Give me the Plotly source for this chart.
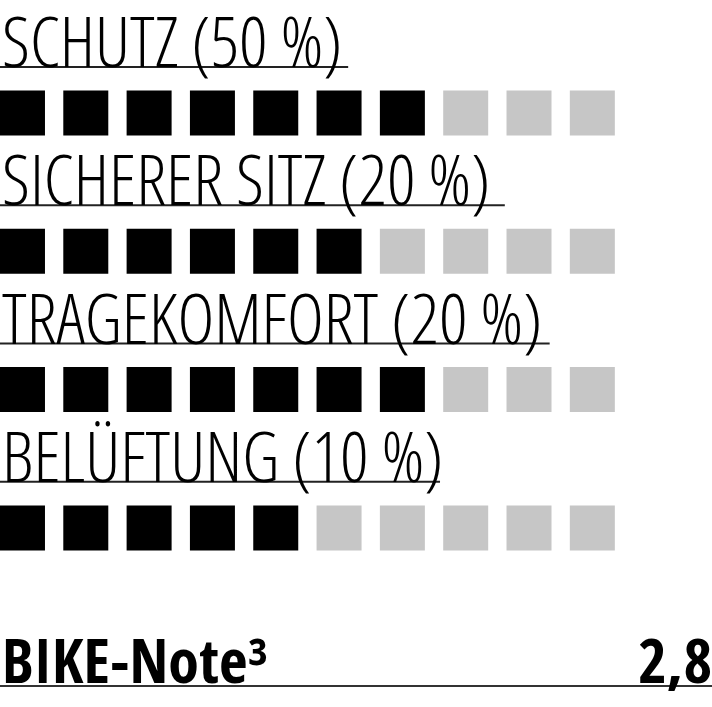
import plotly.graph_objects as go

# ratings for a bike helmet test card
criteria = ["SCHUTZ (50 %)", "SICHERER SITZ (20 %)", "TRAGEKOMFORT (20 %)", "BELÜFTUNG (10 %)"]
scores = [7, 6, 7, 5]
max_score = 10
total_label = "BIKE-Note³"
total_grade = "2,8"

LABEL_FONT = "Open Sans, sans-serif"
TOTAL_FONT = "Open Sans Condensed, Open Sans, sans-serif"
ON = "#000000"
OFF = "#c6c6c6"
LABEL_STYLE = "font-stretch:condensed;font-weight:300"
# underline lengths as a share of the width, measured on the card
UNDERLINE_LEN = [0.489, 0.709, 0.772, 0.618]

xs, ys, colors = [], [], []
for row, score in enumerate(scores):
    for i in range(max_score):
        xs.append(i)
        ys.append(row)
        colors.append(ON if i < score else OFF)

fig = go.Figure(
    go.Scatter(
        x=xs,
        y=ys,
        mode="markers",
        marker=dict(symbol="square", size=45, color=colors, line=dict(width=0)),
        hoverinfo="skip",
    )
)

for row, label in enumerate(criteria):
    fig.add_annotation(
        x=0, xref="paper", xanchor="left",
        y=row - 0.528, yref="y", yanchor="middle",
        text=f'<span style="{LABEL_STYLE}">{label}</span>', showarrow=False,
        font=dict(family=LABEL_FONT, size=70, color="#000000"),
    )
    fig.add_shape(
        type="line", xref="paper", yref="y",
        x0=0, x1=UNDERLINE_LEN[row], y0=row - 0.333, y1=row - 0.333,
        line=dict(color="#222222", width=2),
    )

fig.add_annotation(
    x=0, xref="paper", xanchor="left", y=0.068, yref="paper", yanchor="middle",
    text=total_label, showarrow=False,
    font=dict(family=TOTAL_FONT, size=62, color="#000000", weight="bold"),
)
fig.add_annotation(
    x=1, xref="paper", xanchor="right", y=0.068, yref="paper", yanchor="middle",
    text=total_grade, showarrow=False, xshift=2,
    font=dict(family=TOTAL_FONT, size=62, color="#000000", weight="bold"),
)
fig.add_shape(
    type="line", xref="paper", yref="paper", x0=0, x1=1, y0=0.0297, y1=0.0297,
    line=dict(color="#333333", width=2),
)

fig.update_xaxes(range=[-0.355, 10.89], visible=False, fixedrange=True)
fig.update_yaxes(range=[4.295, -0.817], visible=False, fixedrange=True)
fig.update_layout(
    width=712, height=707,
    margin=dict(l=0, r=0, t=0, b=0),
    paper_bgcolor="white", plot_bgcolor="white",
    showlegend=False,
)

fig.write_html("out.html", config={"displayModeBar": False},
               post_script="document.body.style.margin='0';")
